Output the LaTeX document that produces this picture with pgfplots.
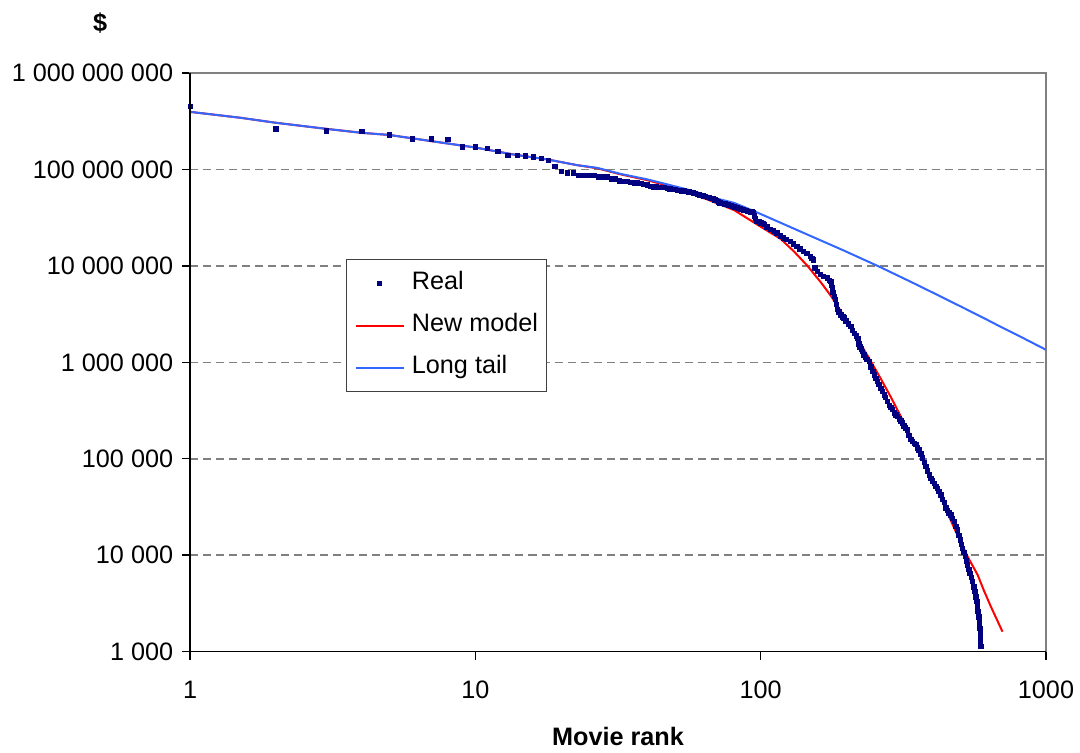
\documentclass[border=0pt]{standalone}
\usepackage{pgfplots}
\pgfplotsset{compat=1.18}
\usepackage{fontspec}
\setmainfont{Liberation Sans}

\definecolor{realdot}{RGB}{0,0,128}
\definecolor{modelred}{RGB}{255,0,0}
\definecolor{tailblue}{RGB}{51,102,255}
\definecolor{gridgray}{RGB}{128,128,128}

\newcommand{\chartfont}{\fontsize{12.6}{15}\selectfont}

\pgfplotsset{
  legline/.style={legend image code/.code={\draw[##1] (0pt,0pt) -- (24pt,0pt);}},
  legdot/.style={legend image code/.code={\draw[##1] plot coordinates {(12pt,0pt)};}},
}

\begin{document}
\begin{tikzpicture}
\path[use as bounding box] (-95pt,-50.5pt) rectangle (444.5pt,325.5pt);
\begin{axis}[
  name=main,
  at={(0,0)}, anchor=south west,
  scale only axis, width=427.5pt, height=289pt,
  xmode=log, ymode=log,
  xmin=1, xmax=1000, ymin=1000, ymax=1e9,
  xtick={1,10,100,1000},
  xticklabels={1,10,100,1000},
  ytick={1e3,1e4,1e5,1e6,1e7,1e8,1e9},
  yticklabels={1 000,10 000,100 000,1 000 000,10 000 000,100 000 000,1 000 000 000},
  xminorticks=false, yminorticks=false,
  tick align=outside, xtick pos=bottom, ytick pos=left,
  major tick length=4pt,
  tick style={black, line width=0.7pt},
  tick label style={font=\chartfont},
  xticklabel style={yshift=-7pt},
  yticklabel style={xshift=-1pt},
  ymajorgrids,
  grid style={gridgray, dash pattern=on 4pt off 2.5pt, line width=0.8pt},
  axis line style={gridgray, line width=0.8pt},
  xlabel={\textbf{Movie rank}},
  xlabel style={font=\chartfont, at={(axis description cs:0.5,0)}, anchor=center, yshift=-42.5pt},
  legend style={at={(0.1825,0.678)}, anchor=north west,
    draw=black!75, line width=0.5pt, fill=white, font=\chartfont,
    inner xsep=4pt, inner ysep=6pt, row sep=9pt, column sep=3.5pt,
    nodes={inner sep=0pt, text height=9pt, text depth=3pt}},
  legend cell align=left,
]

% legend entries, in the order Real / New model / Long tail
\addlegendimage{legdot, only marks, mark=square*, mark size=1pt, realdot}
\addlegendentry{Real}
\addlegendimage{legline, modelred, line width=1pt}
\addlegendentry{New model}
\addlegendimage{legline, tailblue, line width=1pt}
\addlegendentry{Long tail}

% New model
\addplot[forget plot, modelred, line width=1pt] coordinates {
(1,3.96e8)(1.5,3.44e8)(2,3.05e8)(3,2.64e8)(4,2.40e8)(5,2.28e8)(7,1.97e8)
(10,1.69e8)(13.6,1.43e8)(17.9,1.27e8)(22.7,1.11e8)(26.7,1.03e8)(32.3,8.9e7)
(40,7.75e7)(47.1,6.8e7)(52.4,6.1e7)(65,4.89e7)(80.6,3.8e7)(90,3.1e7)
(100,2.55e7)(117.5,1.905e7)(130.9,1.41e7)(145.9,1.0e7)(162.5,6.76e6)
(176.2,4.9e6)(191,3.39e6)(207,2.29e6)(224.4,1.53e6)(236.8,1.175e6)
(263.6,6.76e5)(285.8,4.37e5)(309.8,2.75e5)(335.9,1.72e5)(400,6.17e4)
(476.8,1.91e4)(531,9.7e3)(576,6.25e3)(608,4.2e3)(641,2.93e3)(704,1.61e3)
};

% Long tail
\addplot[forget plot, tailblue, line width=1pt] coordinates {
(1,3.96e8)(1.5,3.44e8)(2,3.05e8)(3,2.64e8)(4,2.40e8)(5,2.28e8)(7,1.97e8)
(10,1.69e8)(13.6,1.43e8)(17.9,1.27e8)(22.7,1.11e8)(26.7,1.04e8)(32.3,9.0e7)
(40,7.9e7)(47.1,7.0e7)(58.3,5.96e7)(68.6,5.08e7)(80.6,4.51e7)(94.8,3.7e7)
(117.5,2.8e7)(138,2.27e7)(196,1.44e7)(264,9.64e6)(355,6.32e6)(504,3.78e6)
(608,2.86e6)(695,2.33e6)(840,1.76e6)(1000,1.35e6)
};

% Real box office grosses
\addplot[forget plot, only marks, mark=square*, mark size=1.1pt, realdot] coordinates {
(1,4.5e8)(2,2.64e8)(3,2.52e8)(4,2.50e8)(5,2.29e8)(6,2.08e8)(7,2.07e8)(8,2.06e8)
(9,1.72e8)(10,1.71e8)(11,1.65e8)(12,1.55e8)(13,1.41e8)(14,1.40e8)(15,1.39e8)
(16,1.35e8)(17,1.31e8)(18,1.24e8)(19,1.07e8)(20,9.6e7)(21,9.23e7)(22,9.2e7)
(23,8.73e7)(24,8.7e7)(25,8.7e7)(26,8.68e7)(27,8.4e7)(28,8.4e7)(29,8.38e7)
(30,8.0e7)(31,7.98e7)(32,7.6e7)(33,7.57e7)(34,7.55e7)(35,7.3e7)(36,7.27e7)
(37,7.25e7)(38,7.22e7)(39,7.0e7)(40,6.95e7)(41,6.65e7)(42,6.6e7)(43,6.58e7)
(44,6.56e7)(45,6.55e7)(46,6.5e7)(47,6.35e7)(48,6.3e7)(49,6.25e7)(50,6.2e7)
(51,6.1e7)(52,6.05e7)(53,6.02e7)(54,6.0e7)(55,5.9e7)(56,5.85e7)(57,5.8e7)
(58,5.73e7)(59,5.65e7)(60,5.55e7)(61,5.45e7)(62,5.35e7)(63,5.3e7)(64,5.25e7)
(65,5.15e7)(66,5.1e7)(67,5.05e7)(68,5.0e7)(69,4.85e7)(70,4.75e7)(71,4.6e7)
(72,4.5e7)(73,4.45e7)(74,4.42e7)(75,4.38e7)(76,4.35e7)(77,4.3e7)(78,4.27e7)
(79,4.2e7)(80,4.15e7)(81,4.1e7)(82,4.05e7)(83,4.0e7)(84,3.95e7)(85,3.9e7)
(86,3.85e7)(87,3.8e7)(88,3.78e7)(89,3.74e7)(90,3.7e7)(91,3.67e7)(92,3.65e7)
(93,3.62e7)(94,3.6e7)(95,3.3e7)(96,3.1e7)(97,2.91e7)(98,2.88e7)(99,2.85e7)
(100,2.8e7)(101,2.75e7)(102,2.72e7)(103,2.69e7)(105,2.55e7)(108,2.39e7)
(111,2.3e7)(114,2.2e7)(117,2.05e7)(120,1.95e7)(123,1.88e7)(127,1.8e7)
(130,1.7e7)(134,1.6e7)(137,1.5e7)(141,1.42e7)(145,1.34e7)(149,1.26e7)
(151,1.2e7)(153,1.16e7)(155,9.5e6)(158,8.8e6)(162,8.14e6)(166,7.8e6)
(171,7.5e6)(174,7.1e6)(176,6.93e6)(177,6.3e6)(178,5.9e6)(179,5.3e6)
(181,4.84e6)(183,4.48e6)(184,4.0e6)(186,3.52e6)(188,3.35e6)(191,3.1e6)
(194,2.95e6)(196,2.89e6)(199,2.7e6)(203,2.5e6)(207,2.36e6)(210,2.15e6)
(213,2.0e6)(216,1.88e6)(219,1.78e6)(221,1.55e6)(223,1.45e6)(225,1.38e6)
(227,1.3e6)(230,1.2e6)(233,1.13e6)(236,1.08e6)(240,1.03e6)(243,9.0e5)
(247,8.08e5)(250,7.4e5)(253,6.8e5)(257,6.36e5)(260,5.9e5)(264,5.4e5)
(267,5.0e5)(271,4.6e5)(274,4.3e5)(278,3.94e5)(282,3.6e5)(286,3.4e5)
(290,3.23e5)(294,3.0e5)(298,2.85e5)(302,2.75e5)(306,2.6e5)(310,2.48e5)
(314,2.35e5)(318,2.2e5)(322,2.1e5)(327,2.0e5)(331,1.75e5)(336,1.58e5)
(340,1.52e5)(345,1.45e5)(350,1.4e5)(355,1.3e5)(359,1.24e5)(364,1.12e5)
(369,1.02e5)(374,9.2e4)(379,8.32e4)(384,7.5e4)(390,6.82e4)(395,6.3e4)
(400,5.9e4)(406,5.58e4)(411,5.2e4)(417,4.95e4)(422,4.58e4)(428,4.23e4)
(434,3.8e4)(440,3.55e4)(446,3.08e4)(451,2.9e4)(457,2.75e4)(464,2.62e4)
(470,2.4e4)(477,2.24e4)(483,2.0e4)(490,1.83e4)(495,1.6e4)(500,1.44e4)
(505,1.3e4)(510,1.18e4)(516,1.07e4)(521,9.68e3)(526,8.7e3)(531,7.94e3)
(537,7.1e3)(542,6.5e3)(548,5.9e3)(553,5.33e3)(558,4.7e3)(563,4.2e3)
(568,3.7e3)(572,3.3e3)(575,2.95e3)(578,2.6e3)(581,2.3e3)(583,2.05e3)
(585,1.9e3)(587,1.75e3)(588,1.55e3)(589,1.37e3)(590,1.25e3)(591,1.13e3)
};
\end{axis}

% left and bottom axis lines in black; top and right stay grey
\draw[black, line width=0.8pt] (main.north west) -- (main.south west) -- (main.south east);
\node[font=\chartfont\bfseries] at ([xshift=-45pt,yshift=25pt]main.north west) {\$};
\end{tikzpicture}
\end{document}
